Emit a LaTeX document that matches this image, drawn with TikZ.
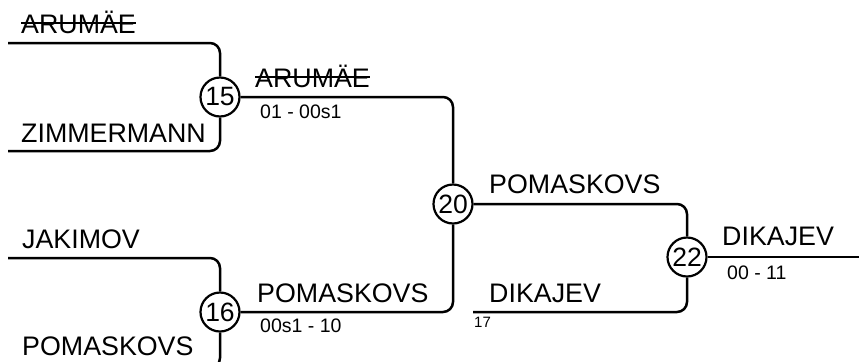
\documentclass[tikz,border=0pt]{standalone}
\usepackage{fontspec}
\setmainfont{Liberation Sans}
\begin{document}
\begin{tikzpicture}[x=1bp,y=-1bp,
  wire/.style={line width=2.5bp,rounded corners=10bp},
  seedcirc/.style={circle,draw,line width=2.2bp,inner sep=0pt,minimum size=39bp,fill=white,font=\fontsize{26.5bp}{28bp}\selectfont},
  player/.style={anchor=base west,inner sep=0pt,font=\fontsize{26.8bp}{30bp}\selectfont},
  scoretxt/.style={anchor=base west,inner sep=0pt,font=\fontsize{19.5bp}{21bp}\selectfont},
  tinytxt/.style={anchor=base west,inner sep=0pt,font=\fontsize{15bp}{17bp}\selectfont},
  strikeline/.style={line width=2bp}]
\useasboundingbox (0,0) rectangle (859,361);
\clip (0,0) rectangle (859,361);
% seeds
\node[seedcirc] (c15) at (220,97) {15};
\node[seedcirc] (c16) at (220,312) {16};
\node[seedcirc] (c20) at (453,204) {20};
\node[seedcirc] (c22) at (687,257) {22};
% free ends
\coordinate (aL) at (8,43);
\coordinate (zL) at (8,151);
\coordinate (jL) at (8,258);
\coordinate (pL) at (8,368);
\coordinate (dL) at (473,312);
\coordinate (fin) at (859,257);
% wires
\draw[wire] (aL) -| (c15);
\draw[wire] (zL) -| (c15);
\draw[wire] (jL) -| (c16);
\draw[wire] (pL) -| (c16);
\draw[wire] (c15) -| (c20);
\draw[wire] (c16) -| (c20);
\draw[wire] (c20) -| (c22);
\draw[wire] (dL) -| (c22);
\draw[wire] (c22) -- (c22 -| fin);
% names
\node[player] (n1) at (21,33) {ARUMÄE};
\draw[strikeline] ([yshift=9.8bp]n1.base west) -- ([yshift=9.8bp]n1.base east);
\node[player] (n2) at (21,142) {ZIMMERMANN};
\node[player] (n3) at (255,87) {ARUMÄE};
\draw[strikeline] ([yshift=9.8bp]n3.base west) -- ([yshift=9.8bp]n3.base east);
\node[scoretxt] (s1) at (260,118) {01 - 00s1};
\node[player] (n4) at (22,248) {JAKIMOV};
\node[player] (n5) at (22,355) {POMASKOVS};
\node[player] (n6) at (257,302) {POMASKOVS};
\node[scoretxt] (s2) at (260,332) {00s1 - 10};
\node[player] (n7) at (489,193) {POMASKOVS};
\node[player] (n8) at (489,302) {DIKAJEV};
\node[tinytxt] (t17) at (474,327) {17};
\node[player] (n9) at (722,245) {DIKAJEV};
\node[scoretxt] (s3) at (727,279) {00 - 11};
\end{tikzpicture}
\end{document}
